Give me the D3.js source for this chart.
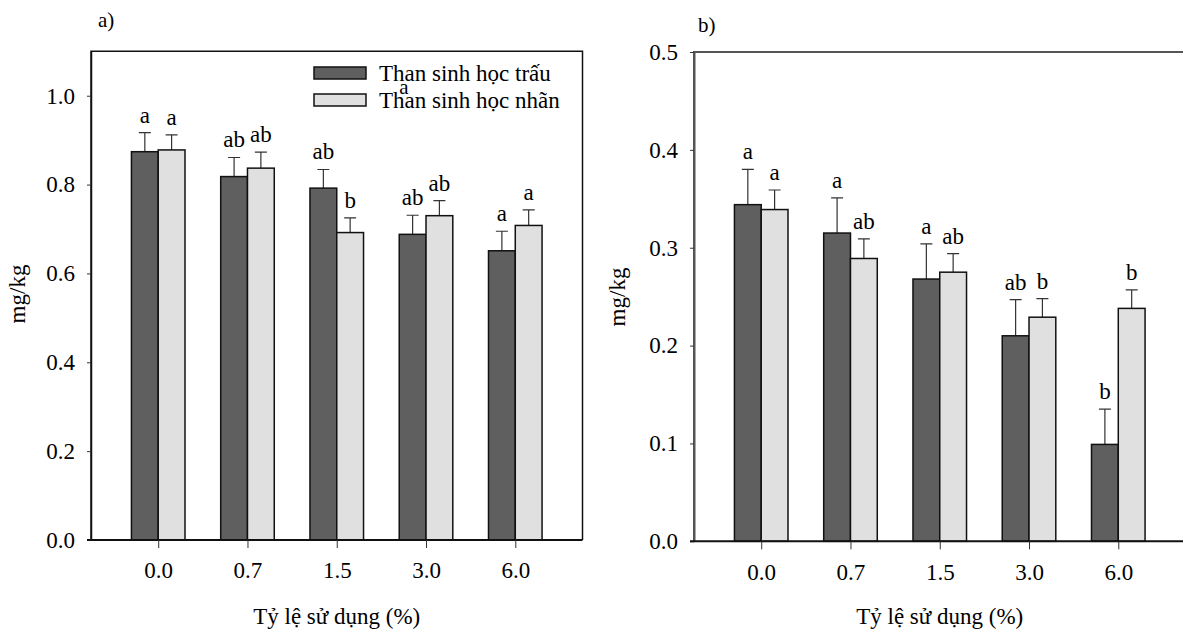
<!DOCTYPE html>
<html>
<head>
<meta charset="utf-8">
<title>bar</title>
<script src="https://cdn.jsdelivr.net/npm/d3@7/dist/d3.min.js"></script>
<style>
    body { margin: 0; background: #fff; }
    text { font-family: "Liberation Serif", "Times New Roman", serif; fill: #000; }
</style>
</head>
<body>
<svg id="chart" width="1183" height="630"></svg>
<script>
    // du lieu
    var categories = ["0.0", "0.7", "1.5", "3.0", "6.0"];
    var seriesNames = ["Than sinh học trấu", "Than sinh học nhãn"];

    var aRice = [0.874, 0.818, 0.792, 0.688, 0.651];
    var aRiceErr = [0.043, 0.043, 0.042, 0.043, 0.044];
    var aLongan = [0.878, 0.837, 0.692, 0.730, 0.708];
    var aLonganErr = [0.034, 0.036, 0.033, 0.034, 0.035];
    var aRiceLetters = ["a", "ab", "ab", "ab", "a"];
    var aLonganLetters = ["a", "ab", "b", "ab", "a"];
    var aTicks = [0, 0.2, 0.4, 0.6, 0.8, 1.0];

    var bRice = [0.344, 0.315, 0.268, 0.210, 0.099];
    var bRiceErr = [0.036, 0.036, 0.036, 0.037, 0.036];
    var bLongan = [0.339, 0.289, 0.275, 0.229, 0.238];
    var bLonganErr = [0.020, 0.020, 0.019, 0.019, 0.019];
    var bRiceLetters = ["a", "a", "a", "ab", "b"];
    var bLonganLetters = ["a", "ab", "ab", "b", "b"];
    var bTicks = [0, 0.1, 0.2, 0.3, 0.4, 0.5];

    var colors = ["#5f5f5f", "#e0e0e0"];
    var fs = "23px";

    var svg = d3.select("#chart");

    function panel(o) {
        var g = svg.append("g");
        var x = d3.scalePoint().domain(categories).range([o.left, o.right]).padding(0.753);
        var y = d3.scaleLinear().domain([0, o.max]).range([o.bottom, o.top]);
        var bw = x.step() * 0.3;

        // khung
        g.append("path")
            .attr("d", "M" + o.left + "," + o.bottom + "V" + o.top + "H" + o.right + "V" + o.bottom)
            .attr("fill", "none").attr("stroke", o.frame).attr("stroke-width", o.frameW);

        var series = [
            { v: o.rice, e: o.riceErr, l: o.riceLetters, dx: -bw / 2, c: colors[0] },
            { v: o.longan, e: o.longanErr, l: o.longanLetters, dx: bw / 2, c: colors[1] }
        ];

        series.forEach(function(s) {
            var sg = g.append("g");
            // thanh sai so
            sg.selectAll(".err").data(categories).enter().append("path")
                .attr("d", function(d, i) {
                    var cx = x(d) + s.dx, t = y(s.v[i] + s.e[i]);
                    return "M" + cx + "," + y(s.v[i]) + "V" + t + "M" + (cx - 6) + "," + t + "H" + (cx + 6);
                })
                .attr("stroke", "#333").attr("stroke-width", 1.2).attr("fill", "none");
            sg.selectAll("rect").data(categories).enter().append("rect")
                .attr("x", function(d) { return x(d) + s.dx - bw / 2; })
                .attr("y", function(d, i) { return y(s.v[i]); })
                .attr("width", bw)
                .attr("height", function(d, i) { return y(0) - y(s.v[i]); })
                .attr("fill", s.c).attr("stroke", "#111").attr("stroke-width", 1.5);
            sg.selectAll("text").data(categories).enter().append("text")
                .attr("x", function(d) { return x(d) + s.dx; })
                .attr("y", function(d, i) { return y(s.v[i] + s.e[i]) - 10; })
                .attr("text-anchor", "middle")
                .style("font-size", fs)
                .text(function(d, i) { return s.l[i]; });
        });

        // truc
        var ya = g.append("g").attr("transform", "translate(" + o.left + ",0)")
            .call(d3.axisLeft(y).tickValues(o.ticks).tickFormat(d3.format(".1f")).tickSize(4).tickPadding(12).tickSizeOuter(0));
        ya.select(".domain").attr("stroke", o.frame).attr("stroke-width", o.frameW);
        var xa = g.append("g").attr("transform", "translate(0," + o.bottom + ")")
            .call(d3.axisBottom(x).tickSize(8).tickPadding(14).tickSizeOuter(0));
        xa.select(".domain").attr("d", "M" + (o.left - 4) + ",0H" + o.right).attr("stroke", "#111").attr("stroke-width", 2);
        [ya, xa].forEach(function(a) {
            a.selectAll("text").style("font-size", fs).style("font-family", "Liberation Serif").attr("fill", "#000");
            a.selectAll(".tick line").attr("stroke", "#333");
        });

        g.append("text")
            .attr("x", (o.left + o.left + 491.5) / 2).attr("y", 624)
            .attr("text-anchor", "middle").style("font-size", fs)
            .text("Tỷ lệ sử dụng (%)");
        g.append("text")
            .attr("transform", "translate(" + o.yTitleX + "," + o.yTitleY + ") rotate(-90)")
            .attr("text-anchor", "middle").style("font-size", fs)
            .text("mg/kg");
        g.append("text")
            .attr("x", o.tagX).attr("y", o.tagY)
            .style("font-size", "21px")
            .text(o.tag);
        return { x: x, y: y };
    }

    var pa = panel({
        left: 91, right: 582.5, top: 51.3, bottom: 540, max: 1.1, ticks: aTicks,
        rice: aRice, riceErr: aRiceErr, longan: aLongan, longanErr: aLonganErr,
        riceLetters: aRiceLetters, longanLetters: aLonganLetters,
        frame: "#111", frameW: 1.5, yTitleX: 25, yTitleY: 294, tag: "a)", tagX: 98, tagY: 27
    });
    var pb = panel({
        left: 694, right: 1185.5, top: 52, bottom: 541.3, max: 0.5, ticks: bTicks,
        rice: bRice, riceErr: bRiceErr, longan: bLongan, longanErr: bLonganErr,
        riceLetters: bRiceLetters, longanLetters: bLonganLetters,
        frame: "#555", frameW: 2, yTitleX: 625, yTitleY: 297, tag: "b)", tagX: 698, tagY: 32
    });

    // chu thich
    var leg = svg.append("g").attr("transform", "translate(314,67)");
    seriesNames.forEach(function(n, i) {
        leg.append("rect").attr("x", 0).attr("y", i * 27).attr("width", 52).attr("height", 12)
            .attr("fill", colors[i]).attr("stroke", "#111").attr("stroke-width", 1.5);
        leg.append("text").attr("x", 65).attr("y", i * 27 + 14).style("font-size", fs).text(n);
    });
    // chu "a" lac trong chu thich
    svg.append("text").attr("x", 404).attr("y", 94).attr("text-anchor", "middle").style("font-size", "21px").text("a");
</script>
</body>
</html>
